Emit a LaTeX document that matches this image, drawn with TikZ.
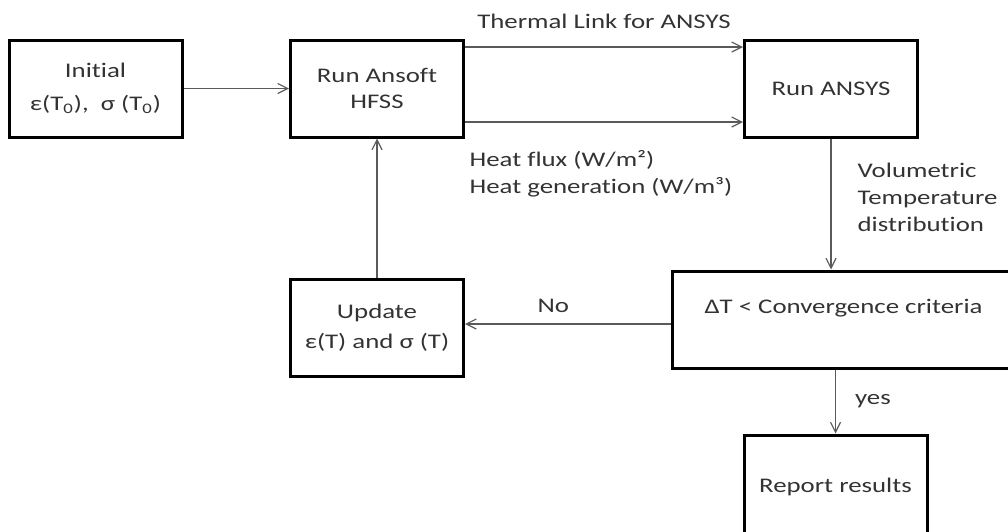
\documentclass[tikz,border=0pt]{standalone}
\usepackage{fontspec}
\setmainfont{Carlito}[FakeStretch=1.29,
  Ligatures={NoCommon,NoContextual}, Contextuals=NoAlternate]
\usepackage{xcolor}
\usetikzlibrary{arrows.meta,positioning,calc}
\definecolor{txtgray}{HTML}{333333}
\definecolor{linegray}{HTML}{5A5A5A}

\begin{document}
\begin{tikzpicture}[x=0.5pt, y=-0.5pt,
  box/.style={draw, line width=1.5pt, align=center, inner sep=2pt,
              minimum width=86.5pt, minimum height=48.5pt,
              font=\fontsize{10.4}{13}\selectfont, text=txtgray},
  lab/.style={font=\fontsize{10.4}{13.3}\selectfont, align=left,
              text=txtgray, inner sep=0pt},
  arr/.style={-{Straight Barb[length=5pt,width=5pt]}, draw=linegray,
              line width=0.6pt}]
\useasboundingbox (0,0) rectangle (1008,531);
\clip (0,0) rectangle (1008,531);
\node[box] (init) at (95.5,88.5)
  {Initial\\[3.5pt]ε(T\textsubscript{0}),\ \ σ (T\textsubscript{0})};
\node[box] (hfss) at (377,88.5) {Run Ansoft\\HFSS};
\node[box] (ansys) at (831,88.5) {Run ANSYS};
\node[box, minimum width=171.5pt] (conv) at (843.5,319.5)
  {ΔT < Convergence criteria\\ \mbox{}};
\node[box] (update) at (377,328) {Update\\[2pt]ε(T) and σ (T)};
\node[box, minimum width=91.5pt, minimum height=63pt] (report)
  at (835.5,498) {Report results\\ \mbox{}};
\draw[arr] (init) -- (hfss);
\draw[arr] ($(hfss.east)+(0,-41.5)$) -- ($(ansys.west)+(0,-41.5)$)
  node[lab, midway, above=9pt]{Thermal Link for ANSYS};
\draw[arr] ($(hfss.east)+(0,33.5)$) -- ($(ansys.west)+(0,33.5)$)
  node[lab, pos=0, below right=14pt and 2pt]
  {Heat flux (W/m²)\\Heat generation (W/m³)};
\draw[arr] (ansys) -- (ansys |- conv.north)
  node[lab, pos=0.45, right=13pt]{Volumetric\\Temperature\\distribution};
\draw[arr] ($(conv.west)+(0,4.5)$) -- ($(update.east)+(0,-4)$)
  node[lab, pos=0.57, above=5.5pt]{No};
\draw[arr] (update) -- (hfss);
\draw[arr] (conv.south -| report.north) -- (report)
  node[lab, midway, right=9.5pt]{yes};
\end{tikzpicture}
\end{document}
